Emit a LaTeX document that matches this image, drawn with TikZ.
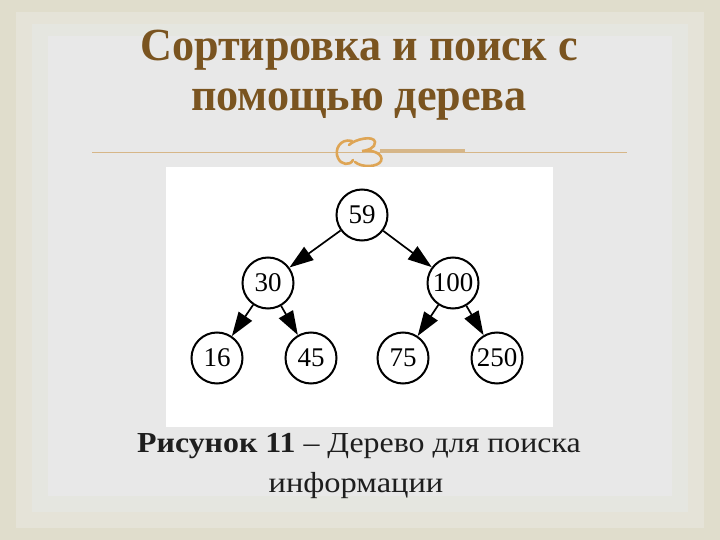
\documentclass[tikz,border=0pt]{standalone}
\usepackage{fontspec}
\setmainfont{Liberation Serif}
\usetikzlibrary{arrows.meta}
\definecolor{outerbg}{RGB}{224,221,204}
\definecolor{band1}{RGB}{229,227,216}
\definecolor{band2}{RGB}{229,230,224}
\definecolor{innerbg}{RGB}{232,232,232}
\definecolor{titlebrown}{RGB}{122,84,32}
\definecolor{rulecol}{RGB}{214,182,136}
\definecolor{ornament}{RGB}{222,165,85}
\definecolor{captioncol}{RGB}{30,30,30}
\tikzset{
  treenode/.style={circle, draw=black, line width=2pt, fill=white, minimum size=51pt, inner sep=0pt, font=\fontsize{27}{27}\selectfont},
  treeedge/.style={line width=1.7pt, -{Triangle[length=24pt,width=16pt]}},
  titletext/.style={text=titlebrown, font=\fontsize{46}{46}\selectfont\bfseries, anchor=base, inner sep=0pt},
  captext/.style={text=captioncol, font=\fontsize{29}{29}\selectfont, anchor=base, inner sep=0pt}
}
\begin{document}
\begin{tikzpicture}[x=1pt,y=-1pt]
\useasboundingbox (0,0) rectangle (720,540);
% background frame
\fill[outerbg] (0,0) rectangle (720,540);
\fill[band1] (16,12) rectangle (704,528);
\fill[band2] (32,24) rectangle (688,512);
\fill[innerbg] (48,36) rectangle (672,496);
% title
\node[titletext] (t1) at (359,61) {\scalebox{0.96}[1]{Сортировка и поиск с}};
\node[titletext] (t2) at (359,111) {\scalebox{0.96}[1]{помощью дерева}};
% rule with ornament
\coordinate (rl) at (92,152);
\coordinate (rr) at (627,152);
\coordinate (sl) at (380,150.5);
\coordinate (sr) at (465,150.5);
\draw[rulecol, line width=0.8pt] (rl) -- (rr);
\draw[rulecol, line width=2.2pt] (sl) -- (sr);
\draw[ornament, line width=2.6pt, line cap=round]
  (352,141) .. controls (340,138) and (334,150) .. (338,158)
            .. controls (341,165) and (350,166) .. (353,160);
\draw[ornament, line width=2.6pt, line cap=round]
  (349,145) .. controls (355,139) and (374,135) .. (375,142)
            .. controls (376,148) and (366,151) .. (362,151)
            .. controls (372,149) and (384,154) .. (381,161)
            .. controls (378,167) and (362,168) .. (355,162);
% white panel
\fill[white] (166,167) rectangle (553,427);
% tree
\node[treenode] (n59) at (362,215) {59};
\node[treenode] (n30) at (268,283) {30};
\node[treenode] (n100) at (453,283) {100};
\node[treenode] (n16) at (217,358) {16};
\node[treenode] (n45) at (311,358) {45};
\node[treenode] (n75) at (403,358) {75};
\node[treenode] (n250) at (497,358) {250};
\draw[treeedge] (n59) -- (n30);
\draw[treeedge] (n59) -- (n100);
\draw[treeedge] (n30) -- (n16);
\draw[treeedge] (n30) -- (n45);
\draw[treeedge] (n100) -- (n75);
\draw[treeedge] (n100) -- (n250);
% caption
\node[captext] (c1) at (359,452) {\scalebox{1.1}[1]{\textbf{Рисунок 11} – Дерево для поиска}};
\node[captext] (c2) at (356,492) {\scalebox{1.12}[1]{информации}};
\end{tikzpicture}
\end{document}
